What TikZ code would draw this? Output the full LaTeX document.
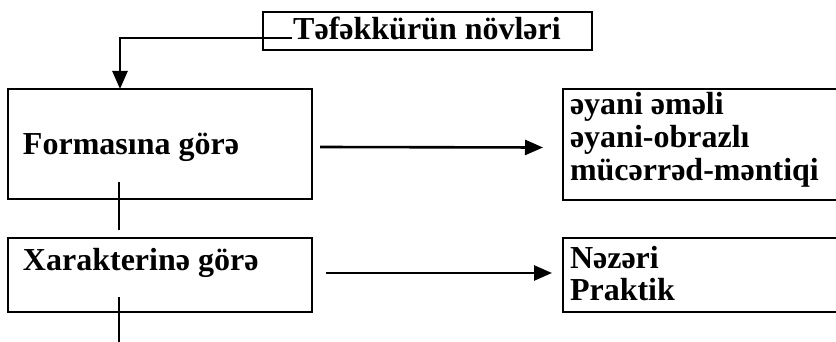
\documentclass[tikz,border=0pt]{standalone}
\usepackage{fontspec}
\setmainfont{Liberation Serif}
\usetikzlibrary{arrows.meta}
\tikzset{
  box/.style={draw, line width=2.8pt, inner sep=0pt, outer sep=0pt},
  lbl/.style={font=\fontsize{32}{33}\selectfont\bfseries, inner sep=0pt, outer sep=0pt},
  arr/.style={line width=2.6pt, -{Triangle[length=18pt,width=15pt]}},
  ln/.style={line width=2.6pt}
}
\begin{document}
\begin{tikzpicture}[x=1pt,y=-1pt]
\useasboundingbox (0,0) rectangle (836,342);
\clip (0,0) rectangle (836,342);
% title
\node[box, minimum width=329pt, minimum height=38pt] (title) at (427.5,31) {};
\node[lbl, anchor=base] (titlet) at (427,40) {Təfəkkürün növləri};
% left boxes
\node[box, minimum width=304pt, minimum height=110pt] (form) at (160,144) {};
\node[lbl, anchor=base west] (formt) at (23,155) {Formasına görə};
\node[box, minimum width=304pt, minimum height=74pt] (char) at (160,275) {};
\node[lbl, anchor=base west] (chart) at (23,270) {Xarakterinə görə};
% right boxes
\node[box, minimum width=282pt, minimum height=111pt] (r1) at (704,144.5) {};
\node[lbl, anchor=base west] (r1a) at (570,115) {əyani əməli};
\node[lbl, anchor=base west] (r1b) at (570,148) {əyani-obrazlı};
\node[lbl, anchor=base west] (r1c) at (570,181) {mücərrəd-məntiqi};
\node[box, minimum width=282pt, minimum height=74pt] (r2) at (704,275) {};
\node[lbl, anchor=base west] (r2a) at (570,269) {Nəzəri};
\node[lbl, anchor=base west] (r2b) at (570,300) {Praktik};
% connectors
\coordinate (tl) at (292,38);
\draw[arr] (tl) -| ([xshift=-40pt]form.north);
\draw[arr] ([xshift=8pt,yshift=-3pt]form.east) -- ([xshift=-20pt,yshift=-3pt]r1.west);
\draw[arr] ([xshift=14pt,yshift=2pt]char.east) -- ([xshift=-11pt,yshift=2pt]r2.west);
\draw[ln] ([xshift=-41pt,yshift=17pt]form.south) -- ([xshift=-41pt,yshift=8pt]char.north);
\coordinate (bot) at (119,345);
\draw[ln] ([xshift=-41pt,yshift=15pt]char.south) -- (bot);
\end{tikzpicture}
\end{document}
